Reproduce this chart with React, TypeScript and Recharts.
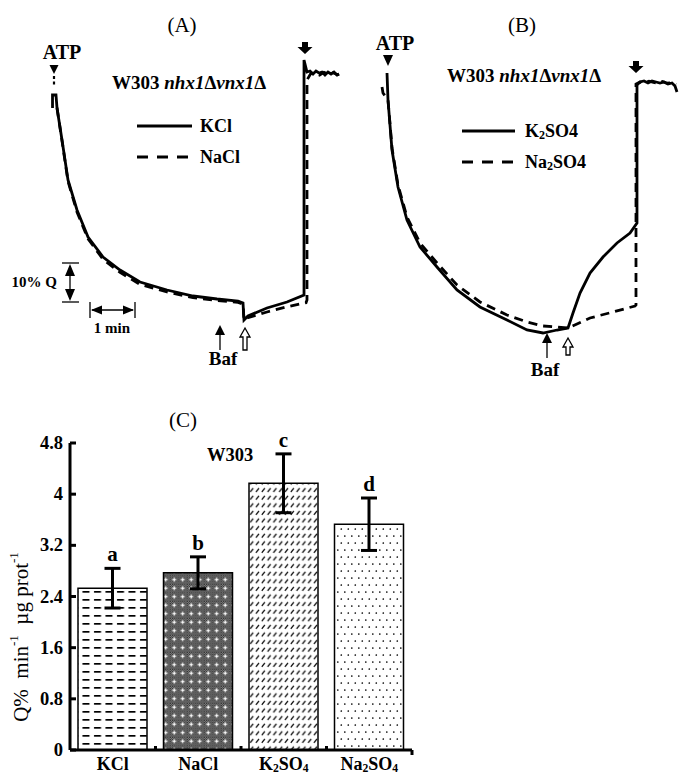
import React from 'react';
import { LineChart, Line, XAxis, YAxis, BarChart, Bar, ErrorBar, LabelList, Cell } from 'recharts';

const FONT = '"Liberation Serif", "Times New Roman", Times, serif';

// ---------- Panel A (time in min after ATP, fluorescence in %) ----------
const kclTime = [-0.033, -0.033, 0.044, 0.067, 0.178, 0.311, 0.511, 0.756, 1.089, 1.467, 1.911, 2.511, 3.089, 3.622, 4.089, 4.2, 4.222, 4.311, 4.733, 5.178, 5.556, 5.556, 5.622, 5.689, 5.756, 5.822, 5.889, 5.956, 6.022, 6.089, 6.156, 6.222, 6.289, 6.333];
const kclQ = [98, 101.25, 101.25, 98, 90, 80, 72.5, 65.75, 60.75, 57.5, 54.5, 52.5, 51, 50.25, 49.75, 49.25, 45, 46, 48, 49.5, 51.25, 110, 107, 107.25, 106.5, 107.25, 106.75, 107, 106.25, 107, 106.5, 107, 106.25, 106.5];
const naclTime = [0.067, 0.178, 0.311, 0.511, 0.756, 1.089, 1.467, 1.911, 2.511, 3.089, 3.622, 4.089, 4.2, 4.222, 4.311, 4.733, 5.178, 5.6, 5.622, 5.622, 5.7, 5.8, 5.9, 6.0, 6.1, 6.2, 6.3, 6.333];
const naclQ = [98, 89.8, 79.7, 72, 65.3, 60.2, 56.9, 53.9, 52, 50.6, 49.9, 49.4, 49, 45, 45.6, 47, 48.3, 49.3, 50, 105, 106.5, 106.8, 106.2, 106.9, 106.4, 106.8, 106.3, 106.5];

// ---------- Panel B ----------
const k2so4Time = [-0.022, 0, 0.089, 0.222, 0.422, 0.711, 1.089, 1.533, 2.044, 2.644, 3.089, 3.444, 3.756, 4.0, 4.111, 4.267, 4.489, 4.778, 5.089, 5.378, 5.533, 5.533, 5.6, 5.689, 5.778, 5.867, 5.956, 6.044, 6.133, 6.222, 6.311, 6.378, 6.422];
const k2so4Q = [106.75, 100, 87.5, 78.25, 70, 63.25, 58.25, 52.5, 48.25, 45, 42.5, 41.75, 42.5, 43, 46.75, 51.75, 56.75, 60.75, 64.25, 66.75, 69.25, 103.75, 104.5, 104.75, 104.25, 104.75, 104.5, 104.25, 104.5, 104, 104.25, 103.5, 102];
const na2so4Time = [-0.133, -0.111, 0, 0.089, 0.222, 0.422, 0.711, 1.089, 1.533, 2.044, 2.644, 3.089, 3.444, 3.756, 4.0, 4.489, 5.0, 5.489, 5.511, 5.511, 5.6, 5.7, 5.8, 5.9, 6.0, 6.1, 6.2, 6.3, 6.4];
const na2so4Q = [103.25, 101.75, 100, 88, 78.75, 70.75, 64.25, 59.25, 53.75, 49.5, 46.25, 44.5, 43.5, 43.25, 43, 45.5, 47, 48.5, 48.75, 104, 104.5, 104.3, 104.7, 104.4, 104.1, 104.6, 104.2, 104.3, 103.8];

// ---------- Panel C ----------
const salts = ['KCl', 'NaCl', 'K2SO4', 'Na2SO4'];
const rates = [2.53, 2.77, 4.17, 3.53];
const rateErr = [0.31, 0.25, 0.46, 0.41];
const letters = ['a', 'b', 'c', 'd'];
const yTicks = [0, 0.8, 1.6, 2.4, 3.2, 4, 4.8];

const zip = (t: number[], q: number[]) => t.map((v, i) => ({ t: v, q: q[i] }));
const kclData = zip(kclTime, kclQ);
const naclData = zip(naclTime, naclQ);
const k2Data = zip(k2so4Time, k2so4Q);
const na2Data = zip(na2so4Time, na2so4Q);
const barData = salts.map((s, i) => ({ name: s, rate: rates[i], err: rateErr[i], letter: letters[i] }));

const BAR_W = 460, BAR_ML = 10, BAR_MR = 48, YAX_W = 60;
const HALF_BAND = (BAR_W - BAR_ML - BAR_MR - YAX_W) / salts.length / 2;

const bold = { fontFamily: FONT, fontWeight: 'bold' as const, fill: '#000' };

const BoldDown = ({ x, y }: { x: number; y: number }) => (
  <polygon points={`${x - 3},${y} ${x + 3},${y} ${x + 3},${y + 5} ${x + 7.5},${y + 5} ${x},${y + 12} ${x - 7.5},${y + 5} ${x - 3},${y + 5}`} fill="#000" />
);
const BlackUp = ({ x, y1, y2 }: { x: number; y1: number; y2: number }) => (
  <g>
    <polygon points={`${x},${y1} ${x + 5},${y1 + 10} ${x - 5},${y1 + 10}`} fill="#000" />
    <line x1={x} y1={y1 + 9} x2={x} y2={y2} stroke="#000" strokeWidth={1.3} />
  </g>
);
const WhiteUp = ({ x, y1, y2 }: { x: number; y1: number; y2: number }) => (
  <polygon points={`${x},${y1} ${x + 5},${y1 + 9} ${x + 2},${y1 + 9} ${x + 2},${y2} ${x - 2},${y2} ${x - 2},${y1 + 9} ${x - 5},${y1 + 9}`} fill="#fff" stroke="#000" strokeWidth={1.3} />
);

const Strain = ({ x, y }: { x: number; y: number }) => (
  <text x={x} y={y} fontSize={19} dominantBaseline="central" {...bold}>
    W303 <tspan fontStyle="italic">nhx1</tspan>Δ<tspan fontStyle="italic">vnx1</tspan>Δ
  </text>
);

const AnnotA = () => (
  <g>
    <text x={182} y={25} fontSize={21} textAnchor="middle" dominantBaseline="central" fontFamily={FONT}>(A)</text>
    <text x={62} y={52} fontSize={20} textAnchor="middle" dominantBaseline="central" {...bold}>ATP</text>
    <polygon points="49.5,65 58.5,65 54,74" fill="#000" />
    <line x1={54} y1={76} x2={54} y2={85} stroke="#000" strokeWidth={2.2} strokeDasharray="3 2.5" />
    <Strain x={112} y={82} />
    <line x1={137} y1={126} x2={192} y2={126} stroke="#000" strokeWidth={3} />
    <text x={200} y={126} fontSize={18} dominantBaseline="central" {...bold}>KCl</text>
    <line x1={137} y1={157} x2={192} y2={157} stroke="#000" strokeWidth={3} strokeDasharray="11 9" />
    <text x={200} y={157} fontSize={18} dominantBaseline="central" {...bold}>NaCl</text>
    <BoldDown x={305} y={42} />
    {/* scale bars */}
    <text x={57} y={282} fontSize={15} textAnchor="end" dominantBaseline="central" {...bold}>10% Q</text>
    <line x1={62} y1={263} x2={79} y2={263} stroke="#000" strokeWidth={1.3} />
    <line x1={62} y1={302} x2={79} y2={302} stroke="#000" strokeWidth={1.3} />
    <line x1={70} y1={266} x2={70} y2={299} stroke="#000" strokeWidth={1.3} />
    <polygon points="70,264 75,276 65,276" fill="#000" />
    <polygon points="70,301 75,289 65,289" fill="#000" />
    <line x1={90} y1={302} x2={90} y2={318} stroke="#000" strokeWidth={1.3} />
    <line x1={135} y1={302} x2={135} y2={318} stroke="#000" strokeWidth={1.3} />
    <line x1={92} y1={310} x2={133} y2={310} stroke="#000" strokeWidth={1.3} />
    <polygon points="91,310 102,305.5 102,314.5" fill="#000" />
    <polygon points="134,310 123,305.5 123,314.5" fill="#000" />
    <text x={112} y={328} fontSize={15} textAnchor="middle" dominantBaseline="central" {...bold}>1 min</text>
    <BlackUp x={220} y1={325} y2={350} />
    <text x={223} y={358} fontSize={19} textAnchor="middle" dominantBaseline="central" {...bold}>Baf</text>
    <WhiteUp x={245} y1={328} y2={350} />
  </g>
);

const AnnotB = () => (
  <g transform="translate(-340,0)">
    <text x={522} y={25} fontSize={21} textAnchor="middle" dominantBaseline="central" fontFamily={FONT}>(B)</text>
    <text x={395} y={43} fontSize={20} textAnchor="middle" dominantBaseline="central" {...bold}>ATP</text>
    <polygon points="383,55 393,55 388,66" fill="#000" />
    <Strain x={447} y={75} />
    <line x1={462} y1={131} x2={515} y2={131} stroke="#000" strokeWidth={3} />
    <text x={525} y={131} fontSize={18} dominantBaseline="central" {...bold}>
      K<tspan fontSize={12} dy={4}>2</tspan><tspan dy={-4}>SO4</tspan>
    </text>
    <line x1={462} y1={162} x2={515} y2={162} stroke="#000" strokeWidth={3} strokeDasharray="11 9" />
    <text x={525} y={162} fontSize={18} dominantBaseline="central" {...bold}>
      Na<tspan fontSize={12} dy={4}>2</tspan><tspan dy={-4}>SO4</tspan>
    </text>
    <BoldDown x={636} y={61} />
    <BlackUp x={547} y1={333} y2={358} />
    <text x={545} y={369} fontSize={19} textAnchor="middle" dominantBaseline="central" {...bold}>Baf</text>
    <WhiteUp x={568} y1={338} y2={355} />
  </g>
);

const subLabel = (s: string, size: number) => {
  const parts = s.match(/[A-Za-z]+|\d+/g) || [s];
  let lowered = false;
  return parts.map((p, i) => {
    if (/\d/.test(p)) {
      const el = <tspan key={i} fontSize={size * 0.65} dy={lowered ? 0 : 4}>{p}</tspan>;
      lowered = true;
      return el;
    }
    const el = <tspan key={i} dy={lowered ? -4 : 0}>{p}</tspan>;
    lowered = false;
    return el;
  });
};

const XTick = (props: any) => {
  const { x, y, payload, index } = props;
  const last = index === salts.length - 1;
  const bx = x + HALF_BAND;
  return (
    <g>
      <text x={x} y={y + 14} fontSize={18} textAnchor="middle" dominantBaseline="central" {...bold}>
        {subLabel(String(payload.value), 18)}
      </text>
      <line x1={bx} y1={last ? y : y - 4} x2={bx} y2={last ? y + 5 : y} stroke="#000" strokeWidth={3} />
    </g>
  );
};

const YTick = (props: any) => {
  const { x, y, payload } = props;
  return (
    <g>
      <line x1={x} y1={y} x2={x + 6} y2={y} stroke="#000" strokeWidth={3} />
      <text x={x - 7} y={y} fontSize={18.5} textAnchor="end" dominantBaseline="central" {...bold}>
        {String(payload.value)}
      </text>
    </g>
  );
};

const renderLetter = (p: any) => {
  const vb = p.viewBox || {};
  const x = p.x ?? vb.x;
  const y = p.y ?? vb.y;
  const w = p.width ?? vb.width;
  const h = p.height ?? vb.height;
  let i = typeof p.index === 'number' ? p.index : letters.indexOf(p.value);
  if (i < 0) i = 0;
  const d = barData[i];
  const yTop = y - d.err * (h / d.rate);
  return (
    <text x={x + w / 2} y={yTop - 14} fontSize={21} textAnchor="middle" dominantBaseline="central" {...bold}>
      {d.letter}
    </text>
  );
};

const traceLine = (data: any[], dashed: boolean, key: string) => (
  <Line
    key={key}
    data={data}
    dataKey="q"
    type="linear"
    stroke="#000"
    strokeWidth={2.8}
    strokeDasharray={dashed ? '9 6' : undefined}
    dot={false}
    activeDot={false}
    isAnimationActive={false}
  />
);

const NB = '\u00a0';

export default function App() {
  return (
    <div style={{ position: 'absolute', left: 0, top: 0, width: 679, height: 775, background: '#fff', overflow: 'hidden' }}>
      <div style={{ position: 'absolute', left: 0, top: 0 }}>
        <LineChart width={340} height={380} margin={{ top: 0, right: 0, bottom: 0, left: 0 }}>
          <XAxis type="number" dataKey="t" domain={[-1.2, 6.3556]} hide allowDataOverflow />
          <YAxis type="number" domain={[30, 125]} hide allowDataOverflow />
          {traceLine(kclData, false, 'kcl')}
          {traceLine(naclData, true, 'nacl')}
          <AnnotA />
        </LineChart>
      </div>
      <div style={{ position: 'absolute', left: 340, top: 0 }}>
        <LineChart width={339} height={380} margin={{ top: 0, right: 0, bottom: 0, left: 0 }}>
          <XAxis type="number" dataKey="t" domain={[-1.0667, 6.4667]} hide allowDataOverflow />
          <YAxis type="number" domain={[30, 125]} hide allowDataOverflow />
          {traceLine(k2Data, false, 'k2')}
          {traceLine(na2Data, true, 'na2')}
          <AnnotB />
        </LineChart>
      </div>
      <div style={{ position: 'absolute', left: 0, top: 380 }}>
        <BarChart width={BAR_W} height={395} data={barData} margin={{ top: 63, right: BAR_MR, bottom: 0, left: BAR_ML }}>
          <defs>
            <pattern id="pat0" width="11.5" height="8" patternUnits="userSpaceOnUse">
              <rect width="11.5" height="8" fill="#fff" />
              <rect x="2" y="3" width="7" height="1.7" fill="#000" />
            </pattern>
            <pattern id="chk" width="2" height="2" patternUnits="userSpaceOnUse">
              <rect width="2" height="2" fill="#a0a0a0" />
              <rect width="1" height="1" fill="#1a1a1a" />
              <rect x="1" y="1" width="1" height="1" fill="#1a1a1a" />
            </pattern>
            <pattern id="pat1" width="8.5" height="8.5" patternUnits="userSpaceOnUse">
              <rect width="8.5" height="8.5" fill="url(#chk)" />
              <rect x="3.6" y="2.3" width="1.2" height="3.8" fill="#fff" />
              <rect x="2.3" y="3.6" width="3.8" height="1.2" fill="#fff" />
            </pattern>
            <pattern id="pat2" width="5.8" height="7.6" patternUnits="userSpaceOnUse">
              <rect width="5.8" height="7.6" fill="#fff" />
              <line x1="0.8" y1="5.6" x2="3.8" y2="1.8" stroke="#000" strokeWidth="1.3" />
            </pattern>
            <pattern id="pat3" width="7" height="14" patternUnits="userSpaceOnUse">
              <rect width="7" height="14" fill="#fff" />
              <circle cx="1.8" cy="2" r="0.85" fill="#000" />
              <circle cx="5.3" cy="9" r="0.85" fill="#000" />
            </pattern>
          </defs>
          <XAxis
            dataKey="name"
            height={25}
            axisLine={{ stroke: '#000', strokeWidth: 3 }}
            tickLine={false}
            tickSize={0}
            tickMargin={0}
            interval={0}
            tick={(p: any) => <XTick {...p} />}
          />
          <YAxis
            width={YAX_W}
            type="number"
            domain={[0, 4.8]}
            ticks={yTicks}
            interval={0}
            axisLine={{ stroke: '#000', strokeWidth: 3 }}
            tickLine={false}
            tickSize={0}
            tickMargin={0}
            tick={(p: any) => <YTick {...p} />}
          />
          <Bar dataKey="rate" barSize={69} stroke="#000" strokeWidth={1.5} isAnimationActive={false}>
            {barData.map((d, i) => (
              <Cell key={d.name} fill={`url(#pat${i})`} />
            ))}
            <ErrorBar dataKey="err" width={8} strokeWidth={3} stroke="#000" direction="y" />
            <LabelList dataKey="letter" content={renderLetter} />
          </Bar>
          <text x={183} y={40} fontSize={21} textAnchor="middle" dominantBaseline="central" fontFamily={FONT}>(C)</text>
          <text x={230} y={75} fontSize={18.5} textAnchor="middle" dominantBaseline="central" {...bold}>W303</text>
          <text
            x={21}
            y={257}
            fontSize={21}
            textAnchor="middle"
            dominantBaseline="central"
            fontFamily={FONT}
            transform="rotate(-90 21 257)"
          >
            {`Q%${NB}${NB}min`}<tspan fontSize={13} dy={-8}>-1</tspan><tspan dy={8}>{`${NB}${NB}µg${NB}prot`}</tspan><tspan fontSize={13} dy={-8}>-1</tspan>
          </text>
        </BarChart>
      </div>
    </div>
  );
}
